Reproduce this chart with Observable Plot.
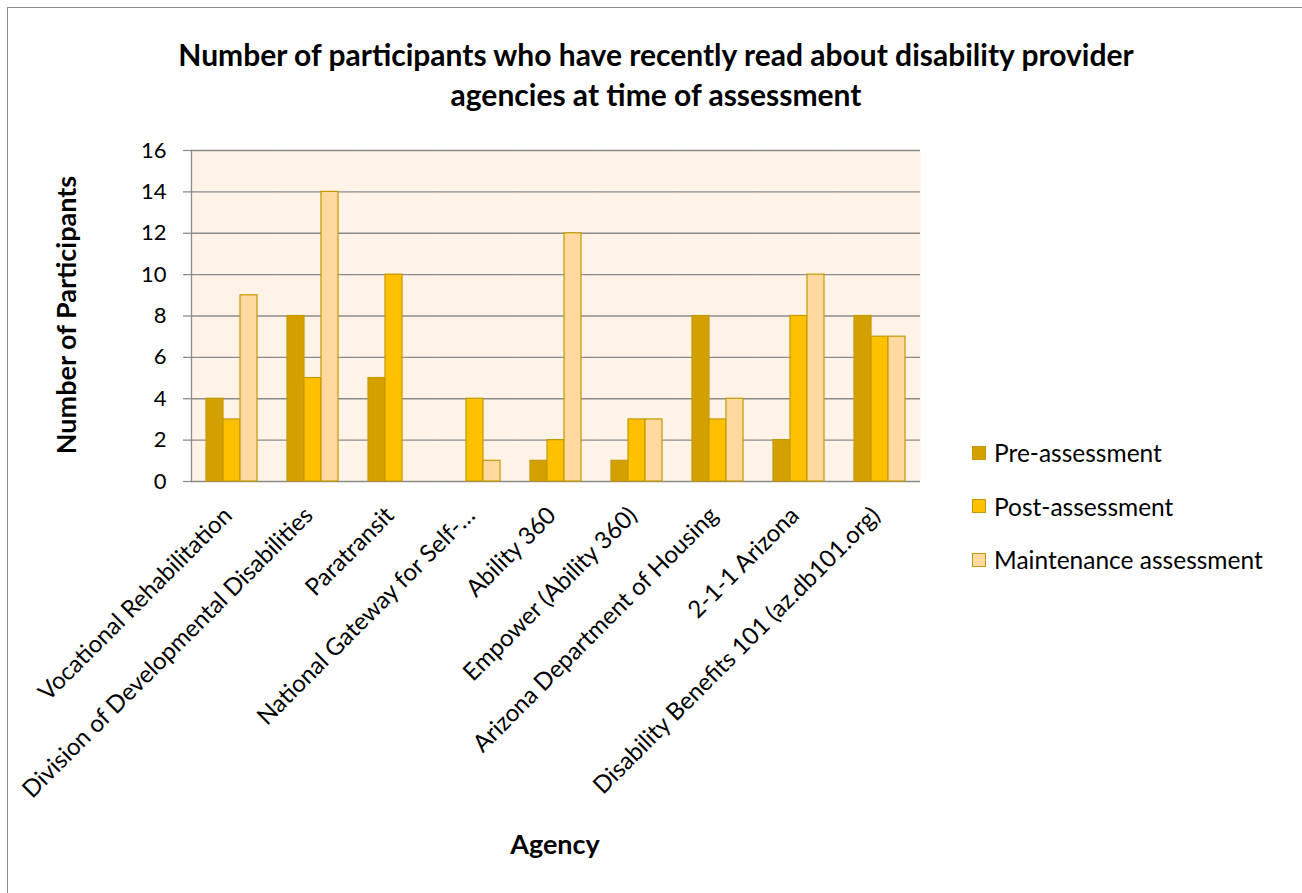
<!DOCTYPE html>
<html>
<head>
<meta charset="utf-8">
<script src="https://cdn.jsdelivr.net/npm/d3@7"></script>
<script src="https://cdn.jsdelivr.net/npm/@observablehq/plot@0.6"></script>
<style>
  html, body { margin: 0; padding: 0; background: #fff; }
  #chart { position: relative; width: 1302px; height: 893px; overflow: hidden; font-family: Lato, "Open Sans", sans-serif; color: #000; }
  #border { position: absolute; left: 7px; top: 7px; width: 1320px; height: 910px; border: 1.5px solid #8c8c8c; box-sizing: border-box; }
  #title { position: absolute; left: 0; top: 34px; width: 1312px; text-align: center; font-weight: 700; font-size: 30px; line-height: 40px; }
  #plot { position: absolute; left: 0; top: 130px; }
  #ylabel { position: absolute; left: 65px; top: 315px; transform: translate(-50%, -50%) rotate(-90deg); font-weight: 700; font-size: 27px; white-space: nowrap; }
  #xlabel { position: absolute; left: 555px; top: 843px; transform: translate(-50%, -50%); font-weight: 700; font-size: 27px; }
  #legend { position: absolute; left: 972px; top: 426px; font-size: 24.5px; }
  .item { display: flex; align-items: center; height: 53.5px; }
  .swatch { width: 14px; height: 14px; box-sizing: border-box; border: 1.5px solid #C49A00; margin-right: 8px; }
</style>
</head>
<body>
<div id="chart">
  <div id="border"></div>
  <div id="title">Number of participants who have recently read about disability provider<br>agencies at time of assessment</div>
  <div id="plot"></div>
  <div id="ylabel">Number of Participants</div>
  <div id="xlabel">Agency</div>
  <div id="legend"></div>
</div>
<script>
// Agencies, in the order they appear along the axis
const agencies = [
  "Vocational Rehabilitation",
  "Division of Developmental Disabilities",
  "Paratransit",
  "National Gateway for Self-…",
  "Ability 360",
  "Empower (Ability 360)",
  "Arizona Department of Housing",
  "2-1-1 Arizona",
  "Disability Benefits 101 (az.db101.org)"
];

const series = ["Pre-assessment", "Post-assessment", "Maintenance assessment"];

// Participants per agency, one array per assessment
const preValues = [4, 8, 5, 0, 1, 1, 8, 2, 8];
const postValues = [3, 5, 10, 4, 2, 3, 3, 8, 7];
const maintenanceValues = [9, 14, 0, 1, 12, 3, 4, 10, 7];

const yTicks = [0, 2, 4, 6, 8, 10, 12, 14, 16];

const colors = ["#D4A000", "#FFC000", "#FFD99F"];

// Long-format rows for the grouped bars
const valuesBySeries = [preValues, postValues, maintenanceValues];
const rows = agencies.flatMap((agency, i) =>
  series.map((s, j) => ({agency, series: s, value: valuesBySeries[j][i]}))
);

const gridColor = "#8c8c8c";

const chart = Plot.plot({
  width: 1302,
  height: 763,
  marginLeft: 188,
  marginRight: 380,
  marginTop: 20,
  marginBottom: 412,
  style: {fontFamily: "Lato, 'Open Sans', sans-serif", fontSize: "22px", color: "#000", background: "transparent", overflow: "visible"},
  facet: {data: rows, x: "agency"},
  fx: {domain: agencies, padding: 0, label: null, axis: null},
  x: {domain: series, paddingInner: 0, paddingOuter: 0.767, axis: null},
  y: {domain: [0, 16], ticks: yTicks, label: null, axis: null},
  color: {domain: series, range: colors},
  marks: [
    Plot.frame({fill: "#FEF3E6", stroke: null}),
    Plot.gridY(yTicks, {stroke: gridColor, strokeOpacity: 1, strokeWidth: 1.3}),
    Plot.frame({anchor: "left", stroke: gridColor, strokeWidth: 1.3, facetAnchor: "left"}),
    Plot.axisY(yTicks, {anchor: "left", tickSize: 8, tickPadding: 17, stroke: gridColor, strokeWidth: 1.3, label: null, fontSize: 22}),
    Plot.axisFx({anchor: "bottom", tickRotate: -45, tickSize: 0, tickPadding: 30, dx: -4, label: null, fontSize: 24}),
    Plot.barY(rows, {x: "series", y: "value", fill: "series", stroke: "#C49A00", strokeWidth: 1.2})
  ]
});
document.getElementById("plot").append(chart);

// Legend built from the same series and colours
const legend = document.getElementById("legend");
series.forEach((s, i) => {
  const item = document.createElement("div");
  item.className = "item";
  const sw = document.createElement("span");
  sw.className = "swatch";
  sw.style.background = colors[i];
  const label = document.createElement("span");
  label.textContent = s;
  item.append(sw, label);
  legend.append(item);
});
</script>
</body>
</html>
